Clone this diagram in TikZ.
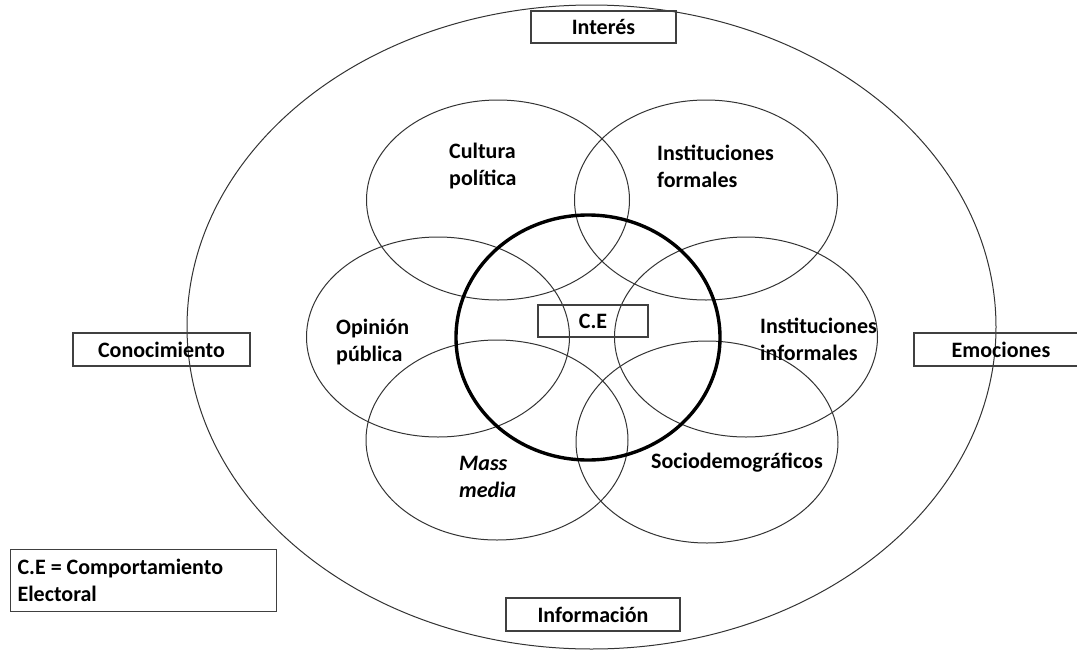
\documentclass[tikz,border=0pt]{standalone}
\usepackage{fontspec}
\setmainfont{Carlito}
\begin{document}
\begin{tikzpicture}[x=1pt,y=-1pt,
  ring/.style={draw=black!80, line width=1pt},
  core/.style={draw=black, line width=3.4pt},
  tag/.style={draw=black!75, line width=1.2pt, minimum width=174pt, minimum height=33pt,
    inner sep=0pt, font=\bfseries\fontsize{22}{27}\selectfont},
  lbl/.style={align=left, inner sep=0pt, anchor=west, font=\bfseries\fontsize{22}{27}\selectfont}]
\useasboundingbox (0,0) rectangle (1077,651);

% outer frame of influences
\draw[ring] (591.5,327) ellipse [x radius=404.5, y radius=322];

% the six factor sets
\draw[ring] (498,200) ellipse [x radius=131.5, y radius=100];
\draw[ring] (706,200) ellipse [x radius=131.5, y radius=100];
\draw[ring] (438,337) ellipse [x radius=131.5, y radius=100];
\draw[ring] (746,337) ellipse [x radius=131.5, y radius=100];
\draw[ring] (497,440) ellipse [x radius=131, y radius=100];
\draw[ring] (707,442) ellipse [x radius=131, y radius=101];

% electoral behaviour core
\draw[core] (588,337.5) ellipse [x radius=132, y radius=122.5];

% factor labels
\node[lbl] (cp) at (449,166) {Cultura\\política};
\node[lbl] (inf) at (657,166) {Instituciones\\formales};
\node[lbl] (op) at (336,342) {Opinión\\pública};
\node[lbl] (ii) at (760,339) {Instituciones\\informales};
\node[lbl, font=\bfseries\itshape\fontsize{22}{27}\selectfont] (mm) at (459,477) {Mass\\media};
\node[lbl, anchor=center] (sd) at (737,463) {Sociodemográficos};

% boxed labels
\node[tag, minimum width=110pt, minimum height=32pt] (ce) at (593,321) {C.E};
\node[tag, minimum width=145pt, minimum height=32pt] (int) at (603.5,27) {Interés};
\node[tag, minimum width=177pt] (con) at (161.5,349.5) {Conocimiento};
\node[tag] (emo) at (1001,349.5) {Emociones};
\node[tag] (inf2) at (593,614.5) {Información};

% legend
\node[draw=black!75, line width=1.2pt, anchor=north west, inner xsep=7pt, inner ysep=0pt,
  text width=252pt, minimum height=62pt, align=flush left,
  font=\bfseries\fontsize{22}{27}\selectfont] (leg) at (10,549) {C.E = Comportamiento\\Electoral};
\end{tikzpicture}
\end{document}
